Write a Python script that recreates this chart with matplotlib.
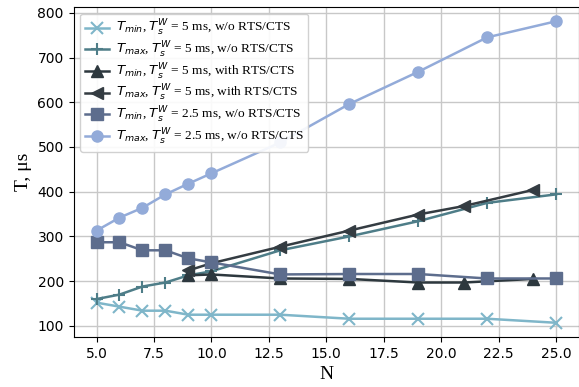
import matplotlib
matplotlib.use("Agg")
import matplotlib.pyplot as plt

# N values for each series
n_all = [5, 6, 7, 8, 9, 10, 13, 16, 19, 22, 25]
n_rts = [9, 10, 13, 16, 19, 21, 24]

tmin_5_norts = [152, 143, 134, 134, 125, 125, 125, 116, 116, 116, 107]
tmax_5_norts = [160, 170, 188, 197, 213, 222, 269, 300, 334, 375, 394]
tmin_5_rts = [213, 215, 206, 205, 197, 197, 205]
tmax_5_rts = [224, 240, 277, 313, 349, 368, 404]
tmin_25_norts = [287, 287, 269, 269, 251, 242, 215, 216, 216, 206, 206]
tmax_25_norts = [313, 342, 364, 394, 418, 441, 510, 596, 668, 745, 781]

labels = [
    r"$T_{min}$, $T_s^W$ = 5 ms, w/o RTS/CTS",
    r"$T_{max}$, $T_s^W$ = 5 ms, w/o RTS/CTS",
    r"$T_{min}$, $T_s^W$ = 5 ms, with RTS/CTS",
    r"$T_{max}$, $T_s^W$ = 5 ms, with RTS/CTS",
    r"$T_{min}$, $T_s^W$ = 2.5 ms, w/o RTS/CTS",
    r"$T_{max}$, $T_s^W$ = 2.5 ms, w/o RTS/CTS",
]

plt.rcParams['font.family'] = ['Liberation Serif', 'DejaVu Serif']
plt.rcParams['mathtext.fontset'] = 'dejavusans'

fig, ax = plt.subplots(figsize=(5.79, 3.87), dpi=100)

ax.plot(n_all, tmin_5_norts, marker='x', ms=8, mew=1.5, lw=1.8, color='#7fb6c9', label=labels[0])
ax.plot(n_all, tmax_5_norts, marker='+', ms=9, mew=1.5, lw=1.8, color='#4e7d88', label=labels[1])
ax.plot(n_rts, tmin_5_rts, marker='^', ms=8, lw=1.8, color='#2d383e', label=labels[2])
ax.plot(n_rts, tmax_5_rts, marker='<', ms=8, lw=1.8, color='#343c42', label=labels[3])
ax.plot(n_all, tmin_25_norts, marker='s', ms=8, lw=1.8, color='#5d6d8d', label=labels[4])
ax.plot(n_all, tmax_25_norts, marker='o', ms=8, lw=1.8, color='#93abd9', label=labels[5])

ax.set_xlim(4.0, 26.0)
ax.set_ylim(75, 813)
ax.set_xticks([5.0, 7.5, 10.0, 12.5, 15.0, 17.5, 20.0, 22.5, 25.0])
ax.set_yticks([100, 200, 300, 400, 500, 600, 700, 800])
for t in ax.get_xticklabels() + ax.get_yticklabels():
    t.set_family('DejaVu Sans')
    t.set_fontsize(10)
ax.grid(True, color='#c8c8c8', lw=1.0)
ax.set_axisbelow(True)
ax.set_xlabel('N', fontsize=14)
ax.set_ylabel('T, μs', fontsize=14)
ax.legend(loc='upper left', fontsize=9.6, framealpha=0.9, edgecolor='#cccccc',
          handlelength=1.8, handletextpad=0.5, labelspacing=0.12, borderpad=0.35)

fig.subplots_adjust(left=0.127, right=1.0, top=0.982, bottom=0.129)
fig.savefig('out.png', dpi=100)
